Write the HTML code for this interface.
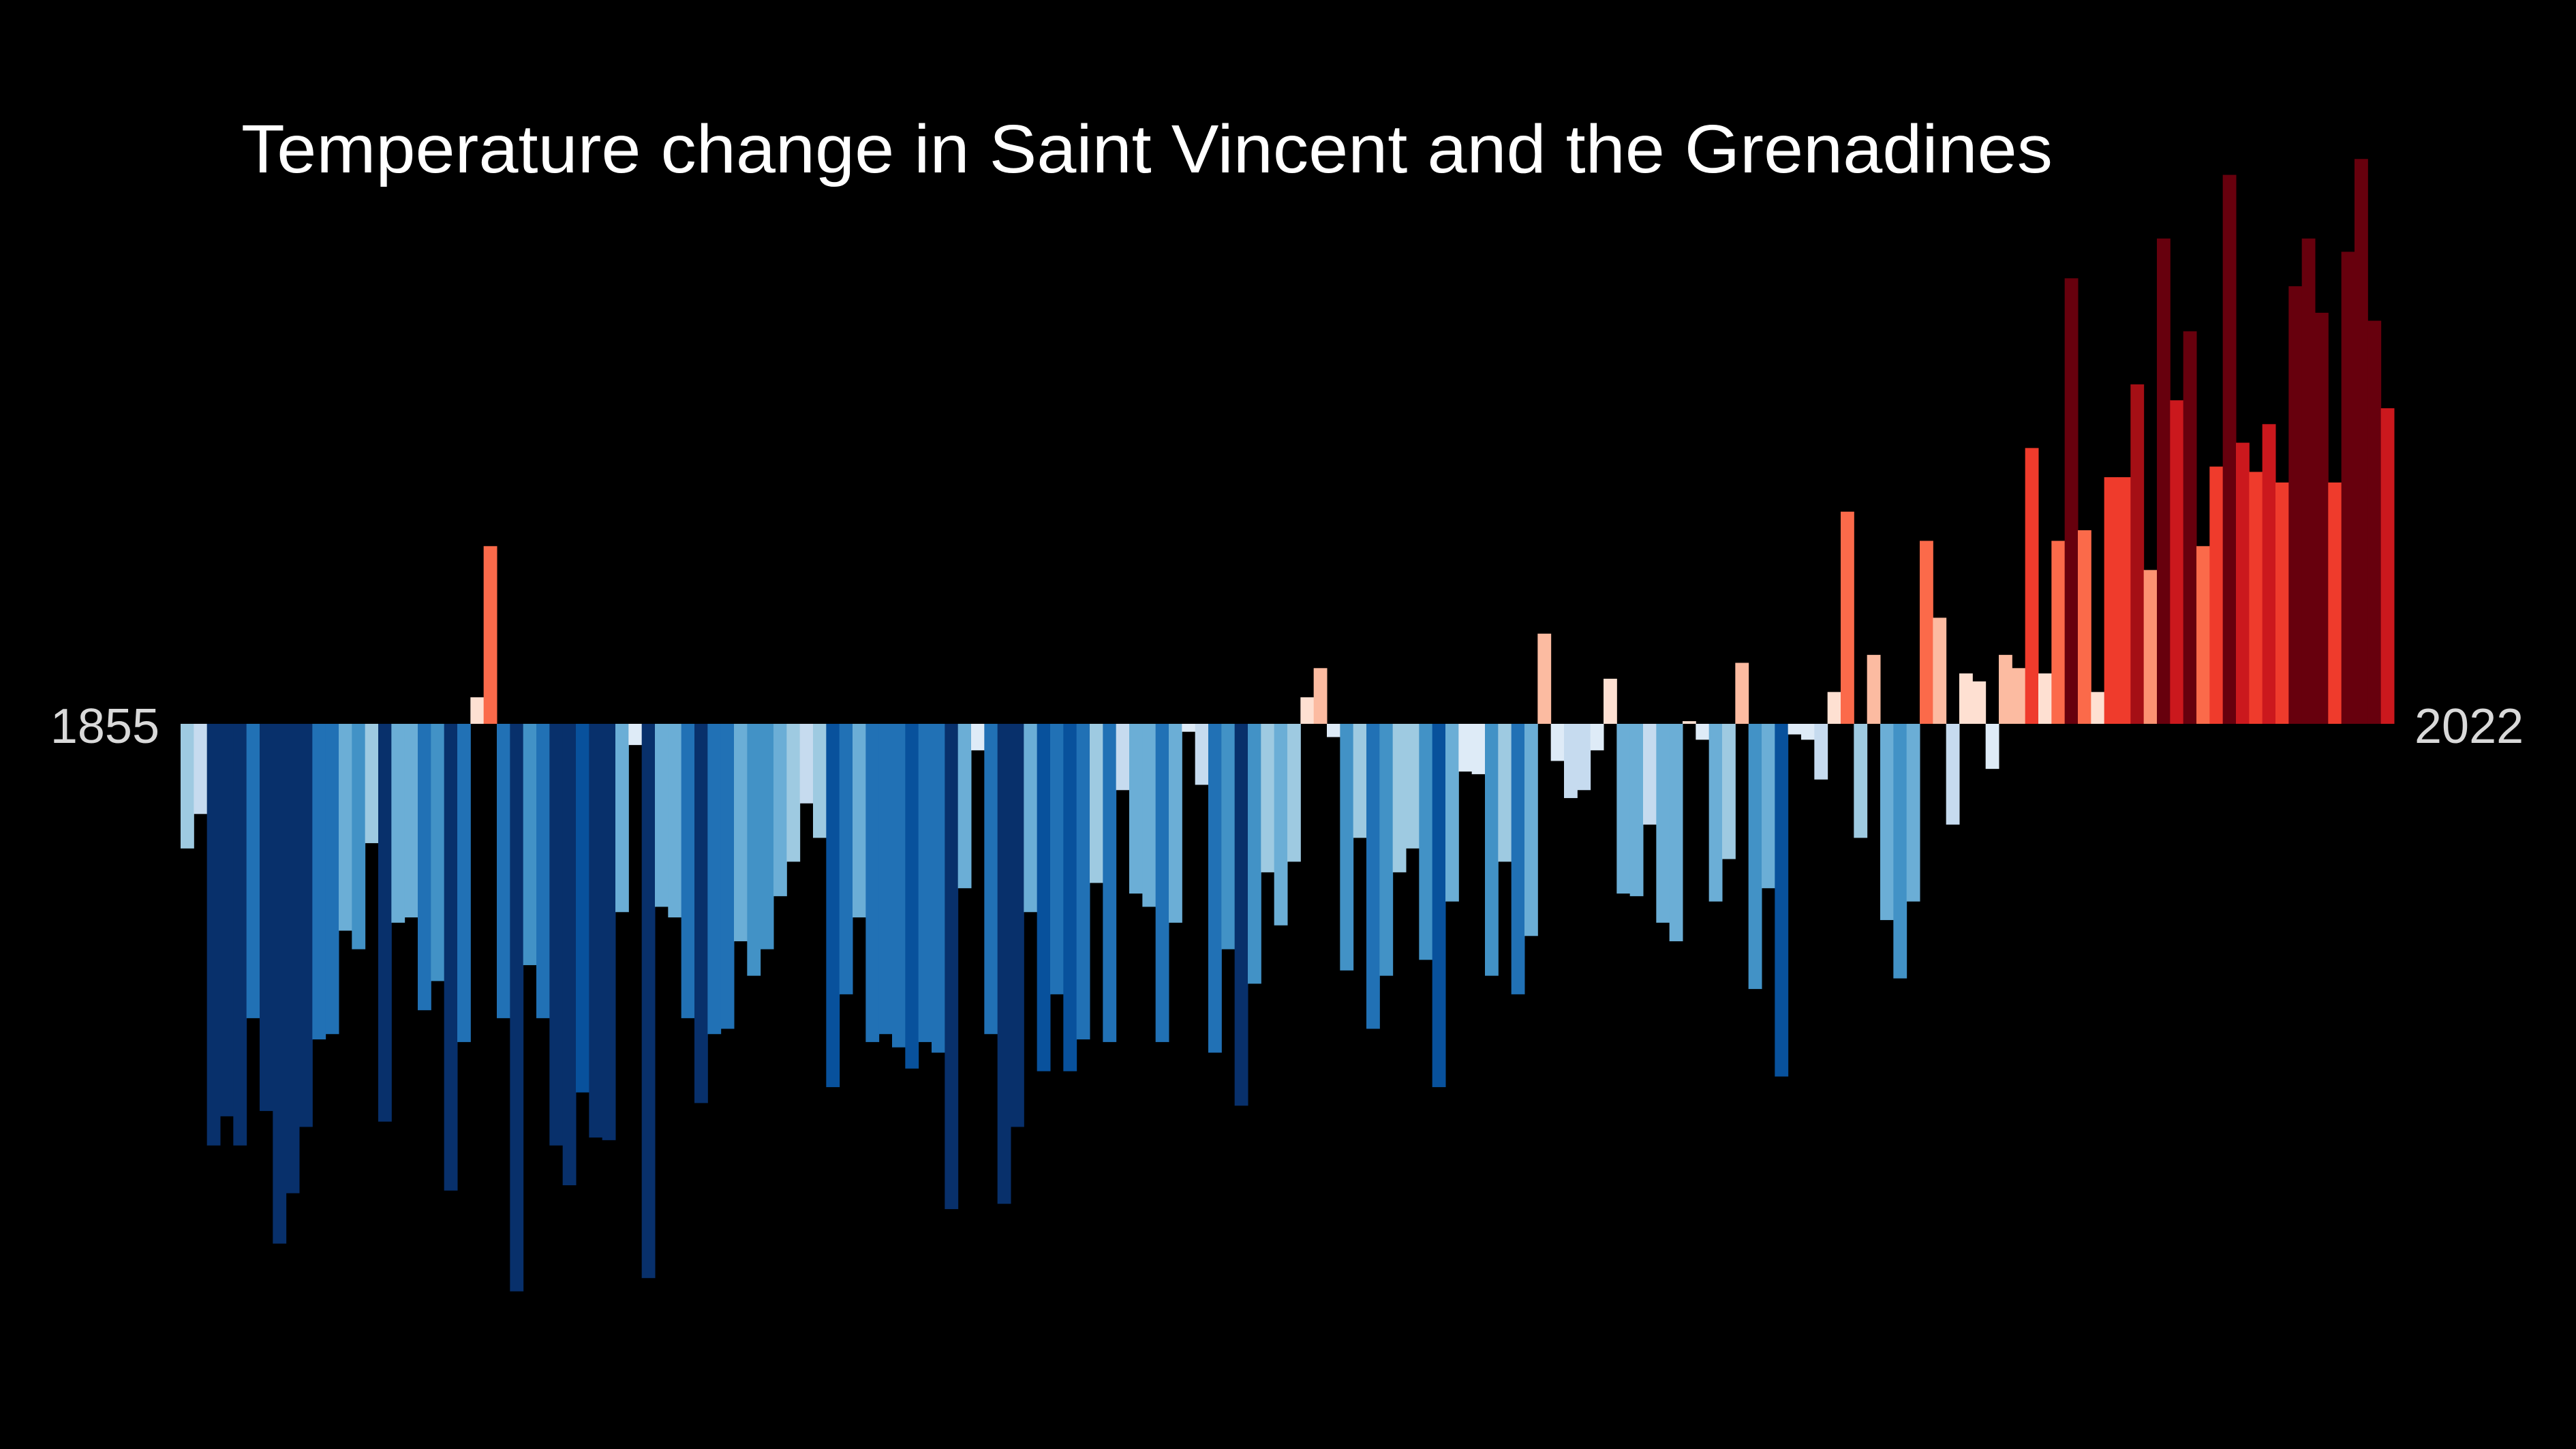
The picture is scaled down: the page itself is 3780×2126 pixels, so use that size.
<!DOCTYPE html>
<html><head><meta charset="utf-8">
<style>html,body{margin:0;padding:0;background:#000;}svg{display:block;}</style>
</head><body>
<svg id="chart" width="3780" height="2126" viewBox="0 0 3780 2126" xmlns="http://www.w3.org/2000/svg">
<rect width="3780" height="2126" fill="#000"/>
<text x="354" y="253" fill="#ffffff" font-family="Liberation Sans, Arial, sans-serif" font-size="100" textLength="2658" lengthAdjust="spacingAndGlyphs">Temperature change in Saint Vincent and the Grenadines</text>
<g id="bars"></g>
<text x="234" y="1090" fill="#d9d9d9" text-anchor="end" font-family="Liberation Sans, Arial, sans-serif" font-size="72">1855</text>
<text x="3543" y="1090" fill="#d9d9d9" font-family="Liberation Sans, Arial, sans-serif" font-size="72">2022</text>
</svg>
<script>
const startYear = 1855;
const endYear = 2022;
const anomalies1855 = [-0.47,-0.34,-1.59,-1.48,-1.59,-1.11,-1.46,-1.96,-1.77,-1.52,-1.19,-1.17,-0.78,-0.85,-0.45,-1.50,-0.75,-0.73,-1.08,-0.97,-1.76,-1.20,0.10,0.67,-1.11,-2.14,-0.91,-1.11,-1.59,-1.74];
const anomalies1885 = [-1.39,-1.56,-1.57,-0.71,-0.08,-2.09,-0.69,-0.73,-1.11,-1.43,-1.17,-1.15,-0.82,-0.95,-0.85,-0.65,-0.52,-0.30,-0.43,-1.37,-1.02,-0.73,-1.20,-1.17,-1.22,-1.30,-1.20,-1.24,-1.83];
const anomalies1914 = [-0.62,-0.10,-1.17,-1.81,-1.52,-0.71,-1.31,-1.02,-1.31,-1.19,-0.60,-1.20,-0.25,-0.64,-0.69,-1.20,-0.75,-0.03,-0.23,-1.24,-0.85,-1.44,-0.98,-0.56,-0.76,-0.52,0.10,0.21,-0.05];
const anomalies1943 = [-0.93,-0.43,-1.15,-0.95,-0.56,-0.47,-0.89,-1.37,-0.67,-0.18,-0.19,-0.95,-0.52,-1.02,-0.80,0.34,-0.14,-0.28,-0.25,-0.10,0.17,-0.64,-0.65,-0.38,-0.75,-0.82,0.01,-0.06,-0.67,-0.51];
const anomalies1973 = [0.23,-1.00,-0.62,-1.33,-0.04,-0.06,-0.21,0.12,0.80,-0.43,0.26,-0.74,-0.96,-0.67,0.69,0.40,-0.38,0.19,0.16,-0.17,0.26,0.21,1.04,0.19,0.69,1.68,0.73,0.12];
const anomalies2001 = [0.93,0.93,1.28,0.58,1.83,1.22,1.48,0.67,0.97,2.07,1.06,0.95,1.13,0.91,1.65,1.83,1.55,0.91,1.78,2.13,1.52,1.19];
const values = [].concat(anomalies1855, anomalies1885, anomalies1914, anomalies1943, anomalies1973, anomalies2001);

const plotLeft = 265, plotRight = 3513, baselineY = 1062, pxPerDegree = 389.1;
const nYears = endYear - startYear + 1;
const bw = (plotRight - plotLeft) / nYears;
function xScale(i){ return plotLeft + i * bw; }
function yScale(v){ return baselineY - v * pxPerDegree; }
function colorFor(v){
  if (v >= 0) {
    if (v < 0.2) return '#fee0d2';
    if (v < 0.45) return '#fcbba1';
    if (v < 0.62) return '#fc9272';
    if (v < 0.9) return '#fb6a4a';
    if (v < 1.05) return '#ef3b2c';
    if (v < 1.25) return '#cb181d';
    if (v < 1.4) return '#a50f15';
    return '#67000d';
  }
  if (v > -0.2) return '#deebf7';
  if (v > -0.4) return '#c6dbef';
  if (v > -0.62) return '#9ecae1';
  if (v > -0.84) return '#6baed6';
  if (v > -1.02) return '#4292c6';
  if (v > -1.3) return '#2171b5';
  if (v > -1.42) return '#08519c';
  return '#08306b';
}
const g = document.getElementById('bars');
const NS = 'http://www.w3.org/2000/svg';
values.forEach(function(v, i){
  const r = document.createElementNS(NS, 'rect');
  const y0 = yScale(Math.max(v, 0)), y1 = yScale(Math.min(v, 0));
  r.setAttribute('x', xScale(i));
  r.setAttribute('y', y0);
  r.setAttribute('width', bw + 0.5);
  r.setAttribute('height', Math.max(y1 - y0, 1));
  r.setAttribute('fill', colorFor(v));
  
  
  g.appendChild(r);
});
</script>
</body></html>
